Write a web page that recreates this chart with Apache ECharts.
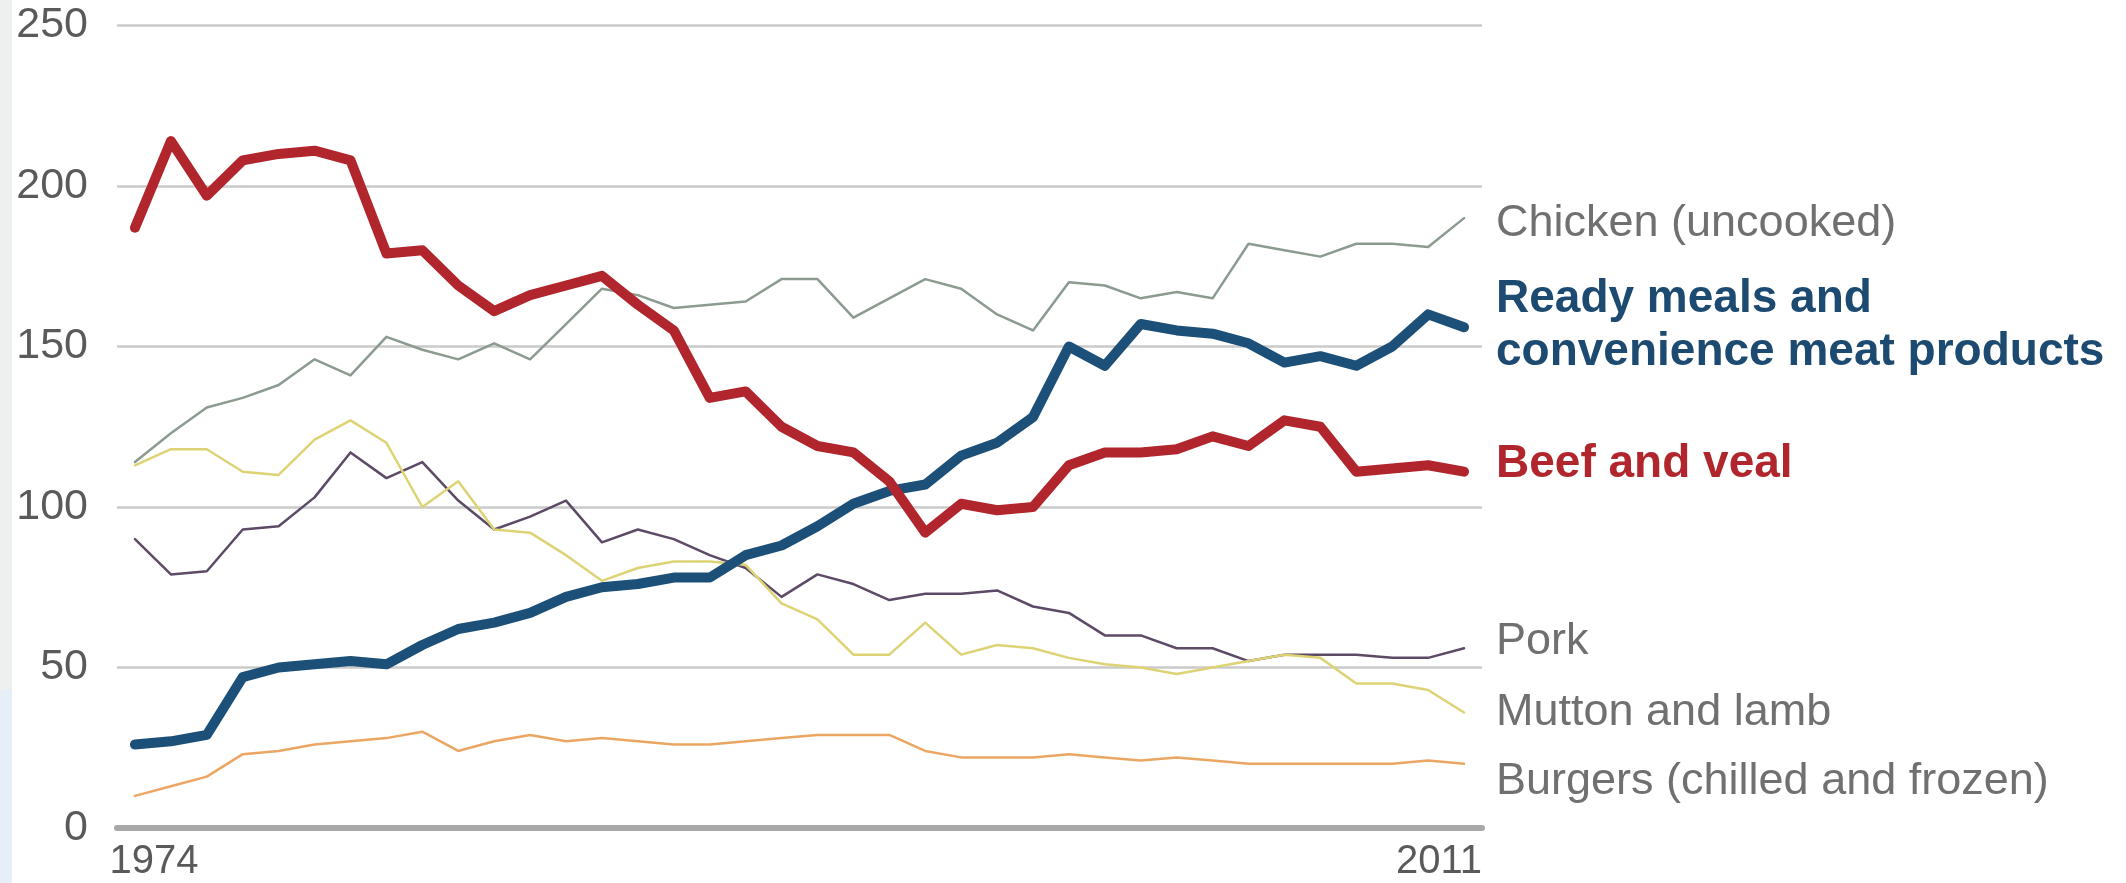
<!DOCTYPE html>
<html>
<head>
<meta charset="utf-8">
<script src="https://cdn.jsdelivr.net/npm/echarts@6/dist/echarts.min.js"></script>
<style>
  html, body { margin: 0; padding: 0; background: #ffffff; }
  #chart { width: 2126px; height: 883px; }
</style>
</head>
<body>
<div id="chart"></div>
<script>
// Years 1974–2011
const years = [];
for (let y = 1974; y <= 2011; y++) years.push(String(y));

const xTickLabels = ['1974', '2011'];
const yTicks = [0, 50, 100, 150, 200, 250];

const chicken = [114, 123, 131, 134, 138, 146, 141, 153, 149, 146, 151, 146, 157, 168, 166, 162, 163,
  164, 171, 171, 159, 165, 171, 168, 160, 155, 170, 169, 165, 167, 165, 182, 180, 178, 182, 182, 181, 190];
const readyMeals = [26, 27, 29, 47, 50, 51, 52, 51, 57, 62, 64, 67, 72, 75, 76, 78, 78,
  85, 88, 94, 101, 105, 107, 116, 120, 128, 150, 144, 157, 155, 154, 151, 145, 147, 144, 150, 160, 156];
const beef = [187, 214, 197, 208, 210, 211, 208, 179, 180, 169, 161, 166, 169, 172, 163, 155, 134,
  136, 125, 119, 117, 108, 92, 101, 99, 100, 113, 117, 117, 118, 122, 119, 127, 125, 111, 112, 113, 111];
const pork = [90, 79, 80, 93, 94, 103, 117, 109, 114, 102, 93, 97, 102, 89, 93, 90, 85,
  81, 72, 79, 76, 71, 73, 73, 74, 69, 67, 60, 60, 56, 56, 52, 54, 54, 54, 53, 53, 56];
const mutton = [113, 118, 118, 111, 110, 121, 127, 120, 100, 108, 93, 92, 85, 77, 81, 83, 83,
  82, 70, 65, 54, 54, 64, 54, 57, 56, 53, 51, 50, 48, 50, 52, 54, 53, 45, 45, 43, 36];
const burgers = [10, 13, 16, 23, 24, 26, 27, 28, 30, 24, 27, 29, 27, 28, 27, 26, 26,
  27, 28, 29, 29, 29, 24, 22, 22, 22, 23, 22, 21, 22, 21, 20, 20, 20, 20, 20, 21, 20];

const seriesNames = ['Chicken (uncooked)', 'Ready meals and convenience meat products', 'Beef and veal',
  'Pork', 'Mutton and lamb', 'Burgers (chilled and frozen)'];
const seriesLabels = ['Chicken (uncooked)', 'Ready meals and\nconvenience meat products', 'Beef and veal',
  'Pork', 'Mutton and lamb', 'Burgers (chilled and frozen)'];
const seriesData = [chicken, readyMeals, beef, pork, mutton, burgers];

// Drawing styles per series (same order as seriesNames)
const styles = [
  { color: '#8b9b90', width: 2.5, z: 2, text: '#707070', bold: false, size: 45, y: 223 },
  { color: '#1d5078', width: 10, z: 5, text: '#1d4a70', bold: true, size: 46, y: 326 },
  { color: '#b0262c', width: 10, z: 6, text: '#b0262c', bold: true, size: 46, y: 464 },
  { color: '#5c4a66', width: 2.5, z: 3, text: '#707070', bold: false, size: 45, y: 641 },
  { color: '#ddd374', width: 2.5, z: 3, text: '#707070', bold: false, size: 45, y: 712 },
  { color: '#eba663', width: 2.5, z: 3, text: '#707070', bold: false, size: 45, y: 781 }
];

const FONT = '"Liberation Sans", Arial, Helvetica, sans-serif';

const chart = echarts.init(document.getElementById('chart'), null, { renderer: 'canvas' });

const series = seriesData.map((d, i) => ({
  name: seriesNames[i],
  type: 'line',
  data: d,
  symbol: 'none',
  smooth: false,
  z: styles[i].z,
  lineStyle: { color: styles[i].color, width: styles[i].width, join: 'round', cap: 'round' },
  emphasis: { disabled: true }
}));

// Series names written at the right end of the lines
const labelGraphics = seriesLabels.map((t, i) => ({
  type: 'text',
  left: 1496,
  top: styles[i].y - (t.indexOf('\n') >= 0 ? 53 : 26),
  style: {
    text: t,
    font: (styles[i].bold ? 'bold ' : '') + styles[i].size + 'px ' + FONT,
    fill: styles[i].text,
    lineHeight: 53
  },
  z: 10
}));

chart.setOption({
  animation: false,
  backgroundColor: '#ffffff',
  grid: { left: 117, right: 644, top: 25.5, bottom: 55, containLabel: false },
  xAxis: {
    type: 'category',
    data: years,
    boundaryGap: true,
    axisLine: { show: true, lineStyle: { color: '#a8a8a8', width: 6 } },
    axisTick: { show: false },
    splitLine: { show: false },
    axisLabel: {
      interval: (idx, val) => xTickLabels.indexOf(val) >= 0,
      margin: 14,
      formatter: (val) => val === xTickLabels[0] ? '{a|' + val + '}' : '{b|' + val + '}',
      rich: {
        a: { fontSize: 40, fontFamily: FONT, color: '#5a5a5a', padding: [0, 0, 0, 38], lineHeight: 40 },
        b: { fontSize: 40, fontFamily: FONT, color: '#5a5a5a', padding: [0, 50, 0, 0], lineHeight: 40 }
      }
    }
  },
  yAxis: {
    type: 'value',
    min: yTicks[0],
    max: yTicks[yTicks.length - 1],
    interval: yTicks[1] - yTicks[0],
    axisLine: { show: false },
    axisTick: { show: false },
    splitLine: { show: true, lineStyle: { color: '#cacaca', width: 2.5 } },
    axisLabel: { fontSize: 43, fontFamily: FONT, color: '#5a5a5a', margin: 29 }
  },
  graphic: [
    { type: 'rect', left: 0, top: 0, shape: { width: 12, height: 690 }, style: { fill: '#eeefef' }, z: -1 },
    { type: 'rect', left: 0, top: 690, shape: { width: 12, height: 193 }, style: { fill: '#e6eef7' }, z: -1 }
  ].concat(labelGraphics),
  series: series
});
</script>
</body>
</html>
